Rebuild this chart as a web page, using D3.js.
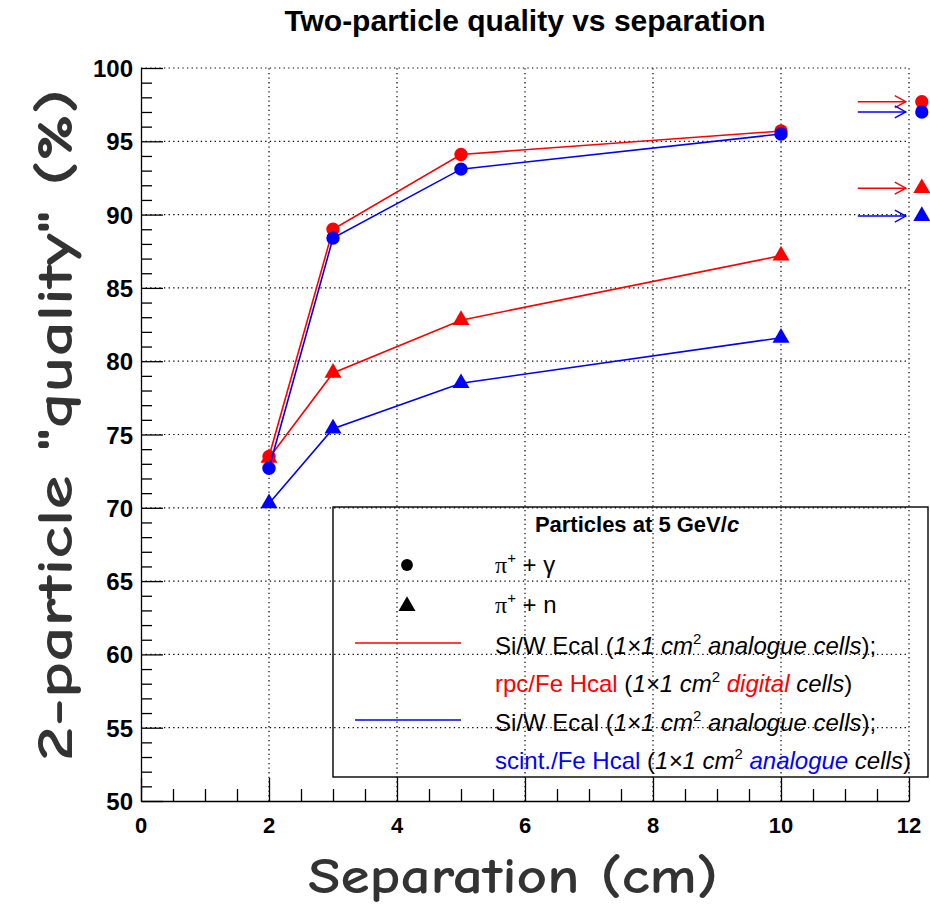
<!DOCTYPE html>
<html><head><meta charset="utf-8">
<script src="https://cdn.jsdelivr.net/npm/d3@7"></script>
<style>body{margin:0;background:#fff} svg{display:block}</style>
</head><body>
<svg id="chart" width="930" height="906"></svg>
<script>
// Separation between the two particles (cm)
const separations = [2, 3, 5, 10];
// Two-particle quality (%) for each detector configuration and particle pair
const redPiGamma  = [73.5, 89.0, 94.1, 95.7];
const bluePiGamma = [72.7, 88.4, 93.1, 95.5];
const redPiN      = [73.4, 79.2, 82.8, 87.2];
const bluePiN     = [70.3, 75.4, 78.5, 81.6];
// Statistical uncertainties
const errRedPiGamma  = [0.3, 0.2, 0.2, 0.2];
const errBluePiGamma = [0.4, 0.2, 0.2, 0.2];
const errRedPiN      = [0.3, 0.3, 0.3, 0.3];
const errBluePiN     = [0.3, 0.3, 0.3, 0.3];
// Asymptotic (large-separation) values: [pi+gamma, pi+n]
const limitRed  = [97.7, 91.8];
const limitBlue = [97.0, 89.9];
// Axis ticks
const xTicks = [0, 2, 4, 6, 8, 10, 12];
const yTicks = [50, 55, 60, 65, 70, 75, 80, 85, 90, 95, 100];

const RED = "#ff0000", BLUE = "#0000ff";
const svg = d3.select("#chart");
const x = d3.scaleLinear().domain([0, 12]).range([141, 909]);
const y = d3.scaleLinear().domain([50, 100]).range([801, 68]);
const sans = "'Liberation Sans', Arial, Helvetica, sans-serif";

// Title
svg.append("text").attr("x", 525).attr("y", 31).attr("text-anchor", "middle")
  .attr("font-family", sans).attr("font-weight", "bold")
  .attr("font-size", 30).text("Two-particle quality vs separation");

// Dotted grid
const grid = svg.append("g").attr("stroke", "#000").attr("stroke-width", 1.2)
  .attr("stroke-dasharray", "1.3,3.3");
grid.selectAll("line.v").data(xTicks.filter(d => d > 0)).join("line").attr("class", "v")
  .attr("x1", d => x(d)).attr("x2", d => x(d)).attr("y1", y(50)).attr("y2", y(100));
grid.selectAll("line.h").data(yTicks.filter(d => d > 50)).join("line").attr("class", "h")
  .attr("x1", x(0)).attr("x2", x(12)).attr("y1", d => y(d)).attr("y2", d => y(d));

// Axes with ticks drawn inward
const xAxis = svg.append("g").attr("transform", `translate(0,${y(50)})`);
xAxis.call(d3.axisBottom(x).tickValues(d3.range(0, 12.01, 0.5)).tickSizeInner(-12).tickSizeOuter(0).tickFormat(""));
xAxis.selectAll(".tick line").filter(d => Number.isInteger(d) && d % 2 === 0).attr("y2", -23);
xAxis.selectAll("line, path").attr("stroke", "#000").attr("stroke-width", 1.3);
xAxis.selectAll(".tick text").remove();
svg.append("g").selectAll("text").data(xTicks).join("text")
  .attr("x", d => x(d)).attr("y", 833).attr("text-anchor", "middle")
  .attr("font-family", sans).attr("font-weight", "bold").attr("font-size", 22).text(d => d);

const yAxis = svg.append("g").attr("transform", `translate(${x(0)},0)`);
yAxis.call(d3.axisLeft(y).tickValues(d3.range(50, 100.01, 1)).tickSizeInner(-11).tickSizeOuter(0).tickFormat(""));
yAxis.selectAll(".tick line").filter(d => d % 5 === 0).attr("x2", 22);
yAxis.selectAll("line, path").attr("stroke", "#000").attr("stroke-width", 1.3);
svg.append("g").selectAll("text").data(yTicks).join("text")
  .attr("x", 133).attr("y", d => y(d) + 9).attr("text-anchor", "end")
  .attr("font-family", sans).attr("font-weight", "bold").attr("font-size", 24).text(d => d);

// Axis titles
const titleFont = "'Comic Sans MS', 'Comic Neue', 'DejaVu Sans', sans-serif";
svg.append("text").attr("x", 513).attr("y", 893).attr("text-anchor", "middle")
  .attr("font-family", titleFont).attr("font-weight", "bold").attr("font-size", 50)
  .attr("fill", "#333").attr("textLength", 410).attr("lengthAdjust", "spacingAndGlyphs")
  .text("Separation (cm)");
svg.append("text").attr("transform", "translate(72,425) rotate(-90)").attr("text-anchor", "middle")
  .attr("font-family", titleFont).attr("font-weight", "bold").attr("font-size", 50)
  .attr("fill", "#333").attr("textLength", 672).attr("lengthAdjust", "spacingAndGlyphs")
  .text("2-particle \"quality\" (%)");

// Data series
const series = [
  {vals: redPiGamma, err: errRedPiGamma, color: RED, shape: d3.symbolCircle},
  {vals: redPiN, err: errRedPiN, color: RED, shape: d3.symbolTriangle},
  {vals: bluePiGamma, err: errBluePiGamma, color: BLUE, shape: d3.symbolCircle},
  {vals: bluePiN, err: errBluePiN, color: BLUE, shape: d3.symbolTriangle},
];
const symSize = s => s === d3.symbolCircle ? 140 : 125;
const line = d3.line().x(d => x(d[0])).y(d => y(d[1]));
series.forEach(s => {
  const pts = separations.map((sep, i) => [sep, s.vals[i], s.err[i]]);
  const g = svg.append("g");
  g.append("path").attr("d", line(pts)).attr("fill", "none").attr("stroke", s.color).attr("stroke-width", 1.6);
  g.selectAll("line.err").data(pts).join("line").attr("class", "err")
    .attr("x1", d => x(d[0])).attr("x2", d => x(d[0]))
    .attr("y1", d => y(d[1] - d[2])).attr("y2", d => y(d[1] + d[2]))
    .attr("stroke", s.color).attr("stroke-width", 1.5);
  g.selectAll("path.m").data(pts).join("path").attr("class", "m")
    .attr("transform", d => `translate(${x(d[0])},${y(d[1])})`)
    .attr("d", d3.symbol(s.shape, symSize(s.shape))).attr("fill", s.color);
});

// Asymptotic values beyond the axis, pointed at by arrows
const limX = 12.2, arrowFrom = 11.2, arrowTo = 11.95;
const limits = [
  {v: limitRed[0], color: RED, shape: d3.symbolCircle},
  {v: limitBlue[0], color: BLUE, shape: d3.symbolCircle},
  {v: limitRed[1], color: RED, shape: d3.symbolTriangle},
  {v: limitBlue[1], color: BLUE, shape: d3.symbolTriangle},
];
const lg = svg.append("g");
limits.forEach(l => {
  const yy = y(l.v), x1 = x(arrowFrom), x2 = x(arrowTo);
  lg.append("line").attr("x1", x1).attr("x2", x2).attr("y1", yy).attr("y2", yy)
    .attr("stroke", l.color).attr("stroke-width", 1.6);
  lg.append("path").attr("d", `M${x2 - 11},${yy - 6}L${x2},${yy}L${x2 - 11},${yy + 6}`)
    .attr("fill", "none").attr("stroke", l.color).attr("stroke-width", 1.4);
  lg.append("path").attr("transform", `translate(${x(limX)},${yy})`)
    .attr("d", d3.symbol(l.shape, symSize(l.shape))).attr("fill", l.color);
});

// Legend
const leg = svg.append("g");
leg.append("rect").attr("x", 333).attr("y", 507).attr("width", 595).attr("height", 270)
  .attr("fill", "none").attr("stroke", "#000").attr("stroke-width", 1.4);
const legTitle = leg.append("text").attr("x", 637).attr("y", 532).attr("text-anchor", "middle")
  .attr("font-family", sans).attr("font-weight", "bold").attr("font-size", 22);
legTitle.append("tspan").text("Particles at 5 GeV/");
legTitle.append("tspan").attr("font-style", "italic").text("c");
leg.append("path").attr("transform", "translate(407,565)").attr("d", d3.symbol(d3.symbolCircle, 110)).attr("fill", "#000");
leg.append("path").attr("transform", "translate(407,606)").attr("d", d3.symbol(d3.symbolTriangle, 125)).attr("fill", "#000");
leg.append("line").attr("x1", 355).attr("x2", 461).attr("y1", 643).attr("y2", 643).attr("stroke", RED).attr("stroke-width", 1.6);
leg.append("line").attr("x1", 355).attr("x2", 461).attr("y1", 720).attr("y2", 720).attr("stroke", BLUE).attr("stroke-width", 1.6);

// Rich-text rows: each part may be italic, coloured or superscript
const P = (t, o = {}) => Object.assign({t}, o);
const cellParts = (kind, kindColor, lead) => [
  P(lead), P("1\u00D71 cm", {i: true}), P("2", {sup: true}),
  P(" " + kind, {i: true, c: kindColor}), P(" cells", {i: true})
];
const rows = [
  {y: 573, parts: [P("\u03C0", {serif: true}), P("+", {sup: true}), P(" + \u03B3")]},
  {y: 613, parts: [P("\u03C0", {serif: true}), P("+", {sup: true}), P(" + n")]},
  {y: 654, parts: [P("Si/W Ecal ("), ...cellParts("analogue", null, "").slice(1), P(");")]},
  {y: 692, parts: [P("rpc/Fe Hcal", {c: RED}), P(" ("), ...cellParts("digital", RED, "").slice(1), P(")")]},
  {y: 731, parts: [P("Si/W Ecal ("), ...cellParts("analogue", null, "").slice(1), P(");")]},
  {y: 769, parts: [P("scint./Fe Hcal", {c: BLUE}), P(" ("), ...cellParts("analogue", BLUE, "").slice(1), P(")")]},
];
rows.forEach(r => {
  const t = leg.append("text").attr("x", 495).attr("y", r.y)
    .attr("font-family", sans).attr("font-size", 24).attr("fill", "#000");
  let shift = 0;
  r.parts.forEach(p => {
    const target = p.sup ? -10 : 0;
    const ts = t.append("tspan").text(p.t).attr("dy", target - shift);
    shift = target;
    if (p.sup) ts.attr("font-size", 15);
    if (p.i) ts.attr("font-style", "italic");
    if (p.c) ts.attr("fill", p.c);
    if (p.serif) ts.attr("font-family", "'Liberation Serif', serif");
  });
});
</script>
</body></html>
